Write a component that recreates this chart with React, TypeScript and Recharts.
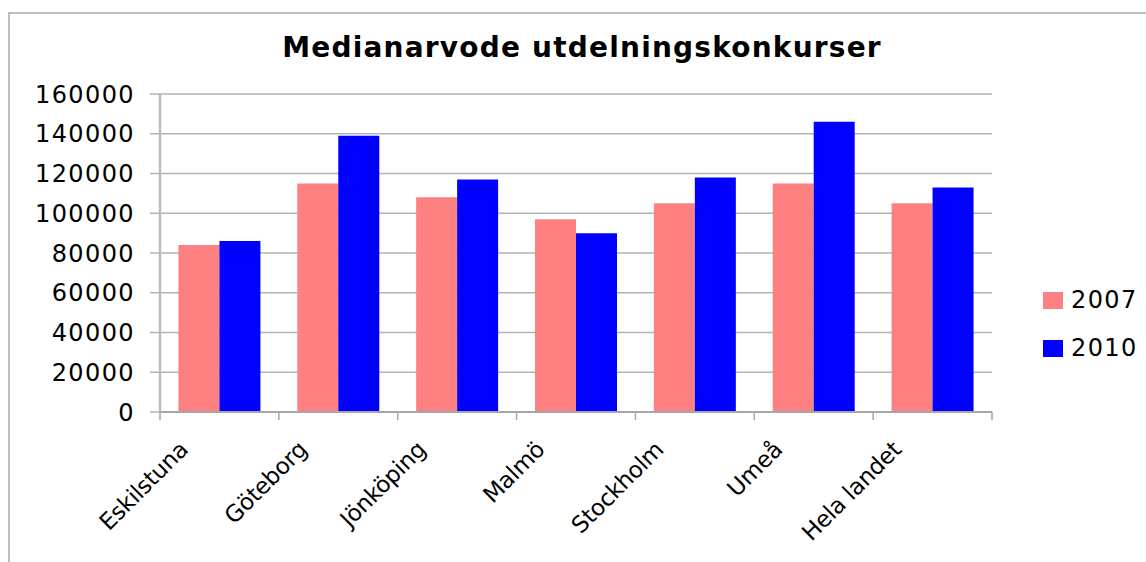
import React from 'react';
import { BarChart, Bar, XAxis, YAxis, CartesianGrid } from 'recharts';

const categories = ['Eskilstuna', 'Göteborg', 'Jönköping', 'Malmö', 'Stockholm', 'Umeå', 'Hela landet'];
const values2007 = [84000, 115000, 108000, 97000, 105000, 115000, 105000];
const values2010 = [86000, 139000, 117000, 90000, 118000, 146000, 113000];
const yTicks = [0, 20000, 40000, 60000, 80000, 100000, 120000, 140000, 160000];
const seriesNames = ['2007', '2010'];
const seriesColors = ['#ff8080', '#0000ff'];

const data = categories.map((name, i) => ({ name, y2007: values2007[i], y2010: values2010[i] }));

const FONT = '"DejaVu Sans", Verdana, sans-serif';
const CHART_W = 1130;
const CHART_H = 546;
const MARGIN = { top: 80, right: 148, left: 0, bottom: 0 };
const Y_W = 150;
const X_H = 148;
const HALF_BAND = (CHART_W - MARGIN.right - Y_W) / categories.length / 2;

function CategoryTick(props: any) {
    const { x, y, payload, index } = props;
    const isLast = index === categories.length - 1;
    const tx = x - 30;
    const ty = y + 31;
    return (
        <g>
            <line x1={x - HALF_BAND} x2={x - HALF_BAND} y1={y - 8} y2={y} stroke="#a6a6a6" strokeWidth={1.5} />
            {isLast && <line x1={x + HALF_BAND} x2={x + HALF_BAND} y1={y - 8} y2={y} stroke="#a6a6a6" strokeWidth={1.5} />}
            <text
                x={tx}
                y={ty}
                transform={`rotate(-45, ${tx}, ${ty})`}
                textAnchor="end"
                fontFamily={FONT}
                fontSize={23}
                letterSpacing={-0.3}
                fill="#000"
            >
                {payload.value}
            </text>
        </g>
    );
}

function LegendBox() {
    return (
        <div style={{ position: 'absolute', left: 1033, top: 262 }}>
            {seriesNames.map((label, i) => (
                <div key={label} style={{ display: 'flex', alignItems: 'center', height: 48 }}>
                    <span style={{ width: 20, height: 17, background: seriesColors[i], display: 'inline-block', marginRight: 8 }} />
                    <span style={{ fontFamily: FONT, fontSize: 24, letterSpacing: 1.4, color: '#000' }}>{label}</span>
                </div>
            ))}
        </div>
    );
}

export default function App() {
    return (
        <div
            style={{
                position: 'absolute',
                left: 8,
                top: 12,
                width: 1140,
                height: 560,
                borderLeft: '2px solid #bfbfbf',
                borderTop: '2px solid #bfbfbf',
                background: '#fff',
            }}
        >
            <div
                style={{
                    position: 'absolute',
                    left: -1,
                    width: 1146,
                    top: 17,
                    textAlign: 'center',
                    fontFamily: FONT,
                    fontWeight: 'bold',
                    fontSize: 28,
                    letterSpacing: 1.2,
                    color: '#000',
                }}
            >
                Medianarvode utdelningskonkurser
            </div>
            <LegendBox />
            <BarChart
                width={CHART_W}
                height={CHART_H}
                data={data}
                margin={MARGIN}
                barCategoryGap="15.5%"
                barGap={0}
            >
                <CartesianGrid vertical={false} stroke="#b3b3b3" strokeWidth={1.5} />
                <XAxis
                    dataKey="name"
                    height={X_H}
                    axisLine={{ stroke: '#a6a6a6', strokeWidth: 2 }}
                    tickLine={false}
                    interval={0}
                    tick={<CategoryTick />}
                />
                <YAxis
                    width={Y_W}
                    domain={[0, 160000]}
                    ticks={yTicks}
                    interval={0}
                    axisLine={{ stroke: '#bdbdbd', strokeWidth: 2.5 }}
                    tickLine={{ stroke: '#b3b3b3', strokeWidth: 1.5 }}
                    tickSize={10}
                    tickMargin={15}
                    tick={{ fontFamily: FONT, fontSize: 24, fill: '#000', letterSpacing: 1.4 }}
                />
                <Bar dataKey="y2007" name={seriesNames[0]} fill={seriesColors[0]} isAnimationActive={false} />
                <Bar dataKey="y2010" name={seriesNames[1]} fill={seriesColors[1]} isAnimationActive={false} />
            </BarChart>
        </div>
    );
}
